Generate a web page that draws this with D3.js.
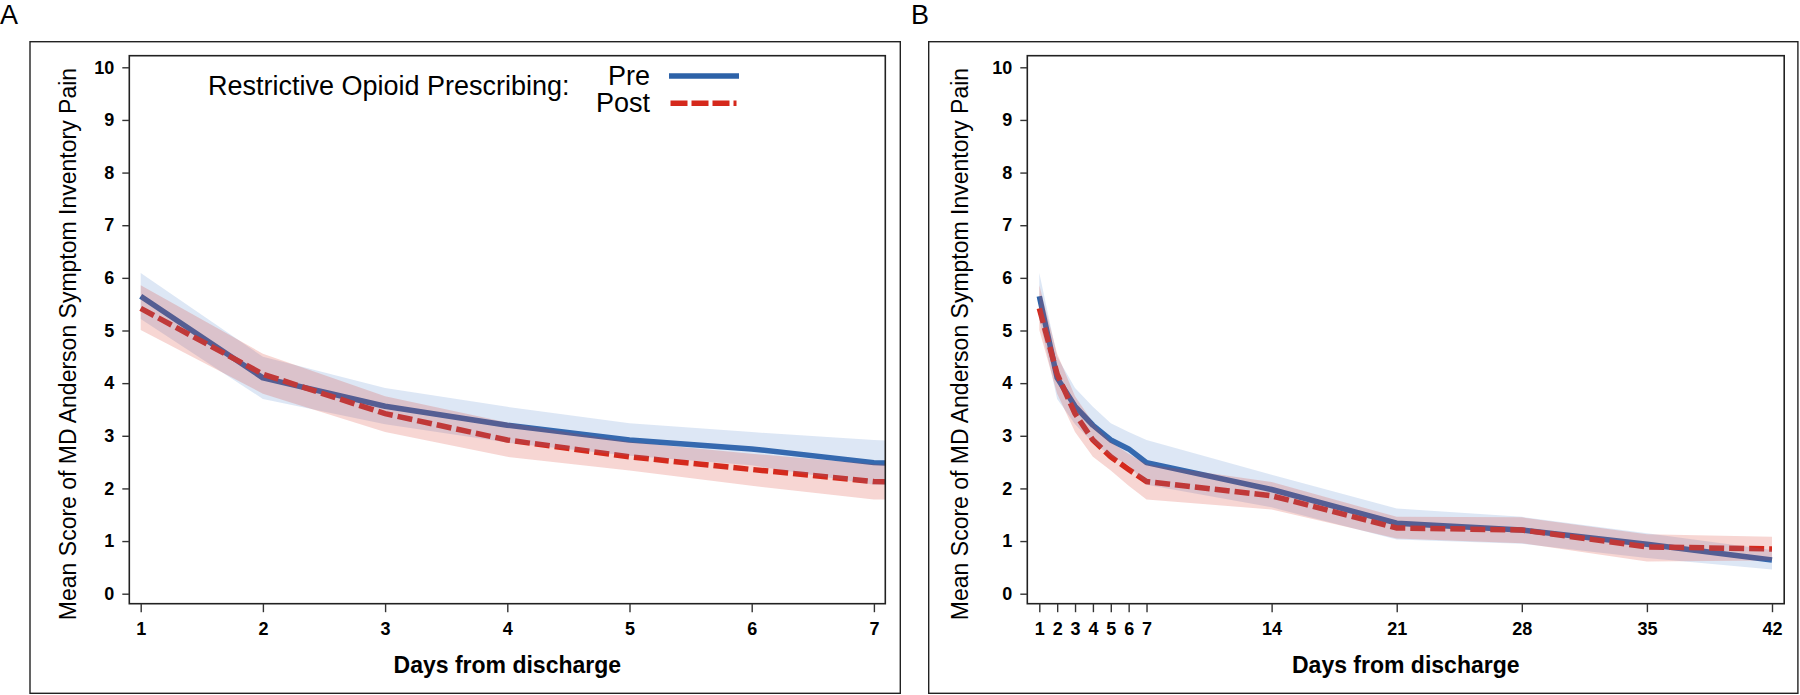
<!DOCTYPE html>
<html>
<head>
<meta charset="utf-8">
<script src="https://cdn.jsdelivr.net/npm/d3@7"></script>
<style>
  html, body { margin: 0; padding: 0; background: #fff; }
  svg { display: block; font-family: "Liberation Sans", Arial, Helvetica, sans-serif; }
</style>
</head>
<body>
<svg id="chart" width="1800" height="695"></svg>
<script>
// ---------------- data ----------------
const days = [1, 2, 3, 4, 5, 6, 7, 14, 21, 28, 35, 42];
const preMean  = [5.65, 4.10, 3.56, 3.20, 2.92, 2.75, 2.49, 1.98, 1.34, 1.21, 0.94, 0.64];
const preLower = [5.22, 3.70, 3.22, 2.87, 2.62, 2.44, 2.07, 1.64, 1.03, 0.95, 0.68, 0.46];
const preUpper = [6.09, 4.50, 3.91, 3.55, 3.24, 3.07, 2.92, 2.26, 1.62, 1.46, 1.15, 0.83];
const postMean  = [5.42, 4.17, 3.42, 2.92, 2.60, 2.36, 2.13, 1.86, 1.25, 1.21, 0.89, 0.85];
const postLower = [5.01, 3.80, 3.07, 2.60, 2.34, 2.05, 1.79, 1.60, 1.05, 0.96, 0.61, 0.63];
const postUpper = [5.86, 4.56, 3.75, 3.25, 2.88, 2.66, 2.46, 2.12, 1.46, 1.45, 1.13, 1.08];
const yTicks = [0, 1, 2, 3, 4, 5, 6, 7, 8, 9, 10];
const xTicksA = [1, 2, 3, 4, 5, 6, 7];
const xTicksB = [1, 2, 3, 4, 5, 6, 7, 14, 21, 28, 35, 42];
const panelLabels = ["A", "B"];
const yTitle = "Mean Score of MD Anderson Symptom Inventory Pain";
const xTitle = "Days from discharge";
const legendTitle = "Restrictive Opioid Prescribing:";
const seriesNames = ["Pre", "Post"];

// ---------------- styles ----------------
const preColor = "#2d62a8", postColor = "#d5291c";
const preBand = "rgb(85,135,205)", postBand = "rgb(215,50,35)";
const bandOpacity = 0.2;

const pre = days.map((d, i) => ({ d, m: preMean[i], lo: preLower[i], hi: preUpper[i] }));
const post = days.map((d, i) => ({ d, m: postMean[i], lo: postLower[i], hi: postUpper[i] }));

const svg = d3.select("#chart");

const panels = [
  { label: panelLabels[0], labelX: 0, outer: [30, 41.7, 900.3, 693.3], plot: [129.3, 55.7, 885.3, 603.7],
    xDomain: [1, 7], xRange: [140.7, 873.9], xTicks: xTicksA, yTitleX: 68, legend: true },
  { label: panelLabels[1], labelX: 911, outer: [928.7, 41.7, 1797.9, 693.3], plot: [1027.3, 55.7, 1784.2, 603.7],
    xDomain: [1, 42], xRange: [1039.3, 1772.0], xTicks: xTicksB, yTitleX: 960, legend: false }
];

panels.forEach((p, pi) => {
  const g = svg.append("g");
  const [ox0, oy0, ox1, oy1] = p.outer;
  const [px0, py0, px1, py1] = p.plot;

  // panel letter
  g.append("text").attr("x", p.labelX).attr("y", 24).attr("font-size", 27).attr("fill", "#000").text(p.label);

  // outer frame
  g.append("rect").attr("x", ox0).attr("y", oy0).attr("width", ox1 - ox0).attr("height", oy1 - oy0)
    .attr("fill", "none").attr("stroke", "#222").attr("stroke-width", 1.4);

  const x = d3.scaleLinear().domain(p.xDomain).range(p.xRange);
  const y = d3.scaleLinear().domain([0, 10]).range([593.7, 67.3]);

  const clipId = "clip" + pi;
  svg.append("clipPath").attr("id", clipId).append("rect")
    .attr("x", px0).attr("y", py0).attr("width", px1 - px0).attr("height", py1 - py0);

  const data = g.append("g").attr("clip-path", `url(#${clipId})`);

  const line = d3.line().x(d => x(d.d)).y(d => y(d.m));
  const area = d3.area().x(d => x(d.d)).y0(d => y(d.lo)).y1(d => y(d.hi));

  data.append("path").datum(pre).attr("d", line).attr("fill", "none")
    .attr("stroke", preColor).attr("stroke-width", 5.5).attr("stroke-linejoin", "round");
  data.append("path").datum(post).attr("d", line).attr("fill", "none")
    .attr("stroke", postColor).attr("stroke-width", 5.5).attr("stroke-dasharray", "15,5");
  data.append("path").datum(pre).attr("d", area).attr("fill", preBand).attr("fill-opacity", bandOpacity);
  data.append("path").datum(post).attr("d", area).attr("fill", postBand).attr("fill-opacity", bandOpacity);

  // plot frame
  g.append("rect").attr("x", px0).attr("y", py0).attr("width", px1 - px0).attr("height", py1 - py0)
    .attr("fill", "none").attr("stroke", "#222").attr("stroke-width", 1.6);

  // axes
  const yAxis = g.append("g").attr("transform", `translate(${px0},0)`)
    .call(d3.axisLeft(y).tickValues(yTicks).tickSize(7).tickPadding(8).tickFormat(d3.format("d")));
  const xAxis = g.append("g").attr("transform", `translate(0,${py1})`)
    .call(d3.axisBottom(x).tickValues(p.xTicks).tickSize(8.5).tickPadding(10).tickFormat(d3.format("d")));
  [yAxis, xAxis].forEach(a => {
    a.select(".domain").remove();
    a.selectAll(".tick line").attr("stroke", "#333").attr("stroke-width", 1.4);
    a.selectAll(".tick text").attr("font-size", 18).attr("font-weight", "bold")
      .attr("fill", "#000").attr("font-family", '"Liberation Sans", Arial, sans-serif');
  });

  // axis titles
  g.append("text").attr("transform", `translate(${p.yTitleX},344) rotate(-90)`)
    .attr("text-anchor", "middle").attr("dominant-baseline", "central")
    .attr("font-size", 23).attr("fill", "#000").text(yTitle);
  g.append("text").attr("x", (px0 + px1) / 2).attr("y", 673)
    .attr("text-anchor", "middle").attr("font-size", 23).attr("font-weight", "bold")
    .attr("fill", "#000").text(xTitle);

  // legend
  if (p.legend) {
    const lg = g.append("g");
    lg.append("text").attr("x", 208).attr("y", 95).attr("font-size", 27).attr("fill", "#000").text(legendTitle);
    lg.append("text").attr("x", 650).attr("y", 85).attr("text-anchor", "end").attr("font-size", 27).text(seriesNames[0]);
    lg.append("text").attr("x", 650).attr("y", 111.7).attr("text-anchor", "end").attr("font-size", 27).text(seriesNames[1]);
    lg.append("line").attr("x1", 669).attr("x2", 739).attr("y1", 76).attr("y2", 76)
      .attr("stroke", preColor).attr("stroke-width", 5.5);
    lg.append("line").attr("x1", 670.5).attr("x2", 736.5).attr("y1", 103.3).attr("y2", 103.3)
      .attr("stroke", postColor).attr("stroke-width", 5.5).attr("stroke-dasharray", "17,4");
  }
});
</script>
</body>
</html>
